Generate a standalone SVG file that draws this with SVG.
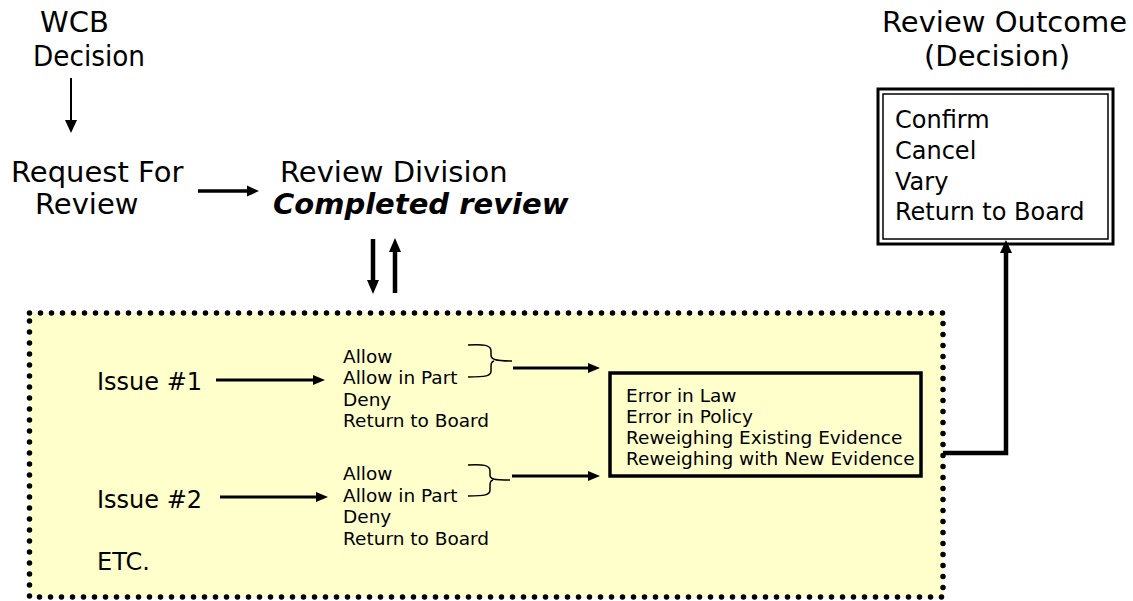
<svg xmlns="http://www.w3.org/2000/svg" width="1133" height="601" viewBox="0 0 1133 601">
<defs>
<style>
.t{font-family:"DejaVu Sans",Verdana,sans-serif;fill:#000}
.big{font-size:29px}
.mid{font-size:24px}
.sm{font-size:18.5px}
.bi{font-weight:bold;font-style:italic}
.ln{stroke:#000;fill:none}
.hd{fill:#000;stroke:none}
</style>
</defs>
<rect width="1133" height="601" fill="#fff"/>

<g id="wcb-decision">
<text class="t big" x="74.5" y="32" text-anchor="middle">WCB</text>
<text class="t big" x="33" y="66" textLength="112" lengthAdjust="spacingAndGlyphs">Decision</text>
</g>

<g id="request-for-review">
<text class="t big" x="11" y="182">Request For</text>
<text class="t big" x="35" y="214">Review</text>
</g>

<g id="review-division">
<text class="t big" x="280" y="182">Review Division</text>
<text class="t big bi" x="273" y="214">Completed review</text>
</g>

<g id="review-outcome">
<text class="t big" x="882" y="32">Review Outcome</text>
<text class="t big" x="924" y="66">(Decision)</text>
<rect x="878" y="89" width="235" height="155" fill="#fff" stroke="#000" stroke-width="3"/>
<rect x="883" y="94" width="225" height="145" fill="none" stroke="#000" stroke-width="1.5"/>
<text class="t mid" x="895" y="128">Confirm</text>
<text class="t mid" x="895" y="159">Cancel</text>
<text class="t mid" x="895" y="190">Vary</text>
<text class="t mid" x="895" y="220">Return to Board</text>
</g>

<g id="issues-panel">
<rect x="29.5" y="313" width="913.5" height="284" fill="#FFFFCC" stroke="#000" stroke-width="5.5" stroke-dasharray="0 11" stroke-linecap="round"/>
<text class="t mid" x="97" y="390">Issue #1</text>
<text class="t mid" x="97" y="508">Issue #2</text>
<text class="t mid" x="97" y="570">ETC.</text>
</g>

<g id="outcomes-1">
<text class="t sm" x="343" y="362.5">Allow</text>
<text class="t sm" x="343" y="384">Allow in Part</text>
<text class="t sm" x="343" y="405.5">Deny</text>
<text class="t sm" x="343" y="427">Return to Board</text>
</g>

<g id="outcomes-2">
<text class="t sm" x="343" y="480">Allow</text>
<text class="t sm" x="343" y="501.5">Allow in Part</text>
<text class="t sm" x="343" y="523">Deny</text>
<text class="t sm" x="343" y="544.5">Return to Board</text>
</g>

<g id="grounds">
<rect x="610" y="373" width="311" height="103" fill="none" stroke="#000" stroke-width="3.5"/>
<text class="t sm" x="626" y="402">Error in Law</text>
<text class="t sm" x="626" y="423">Error in Policy</text>
<text class="t sm" x="626" y="444">Reweighing Existing Evidence</text>
<text class="t sm" x="626" y="465">Reweighing with New Evidence</text>
</g>

<g id="connectors">
<line class="ln" x1="71" y1="78" x2="71" y2="122" stroke-width="2"/>
<polygon class="hd" points="65,120 77,120 71,133"/>

<line class="ln" x1="198" y1="191" x2="250" y2="191" stroke-width="3.5"/>
<polygon class="hd" points="247,185.5 247,196.5 259,191"/>

<line class="ln" x1="373" y1="239" x2="373" y2="282" stroke-width="4.5"/>
<polygon class="hd" points="367,280 379,280 373,294"/>
<line class="ln" x1="395" y1="293" x2="395" y2="250" stroke-width="4.5"/>
<polygon class="hd" points="389,252 401,252 395,238"/>

<line class="ln" x1="216" y1="380" x2="316" y2="380" stroke-width="3"/>
<polygon class="hd" points="313,375 313,385 325,380"/>
<line class="ln" x1="220" y1="497" x2="319" y2="497" stroke-width="3"/>
<polygon class="hd" points="316,492 316,502 328,497"/>

<path class="ln" stroke-width="1.5" d="M468,345 C484,344 491,345 491,351 L491,355 C491,359 494,361 512,361 M494,361 C491,362 491,364 491,368 L491,371 C491,376 486,377 468,377"/>
<path class="ln" stroke-width="1.5" d="M468,465 C483,464 490,465 490,471 L490,475 C490,479 493,480 510,480 M493,480 C490,481 490,483 490,487 L490,490 C490,495 485,496 468,496"/>

<line class="ln" x1="513" y1="368" x2="591" y2="368" stroke-width="3"/>
<polygon class="hd" points="588,363 588,373 600,368"/>
<line class="ln" x1="512" y1="476" x2="591" y2="476" stroke-width="3"/>
<polygon class="hd" points="588,471 588,481 600,476"/>

<path class="ln" d="M943,453 H1006 V252" stroke-width="4.5"/>
<polygon class="hd" points="1000,253 1012,253 1006,240"/>
</g>
</svg>
